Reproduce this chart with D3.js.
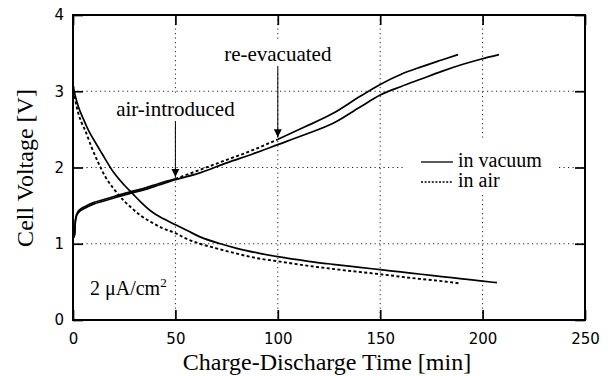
<!DOCTYPE html>
<html>
<head>
<meta charset="utf-8">
<script src="https://cdn.jsdelivr.net/npm/d3@7"></script>
<style>
    body { margin: 0; background: #fff; }
    .tick text { font-family: "DejaVu Sans", sans-serif; font-size: 15px; fill: #000; }
    .serif { font-family: "Liberation Serif", "Times New Roman", serif; fill: #000; }
</style>
</head>
<body>
<div id="d3-container"></div>
<script>
// values: [time (min), voltage (V)]
const vacuumCharge = [[0, 1.07], [0.8, 1.12], [1.1, 1.27], [1.5, 1.34], [2.2, 1.39], [3.5, 1.43], [6, 1.47], [10, 1.52], [15, 1.56], [20, 1.6], [28, 1.66], [35, 1.71], [42, 1.77], [50, 1.84], [62, 1.93], [75, 2.06], [88, 2.18], [100, 2.3], [113, 2.43], [127, 2.58], [140, 2.79], [150, 2.95], [160, 3.06], [170, 3.16], [180, 3.26], [190, 3.35], [199, 3.42], [208, 3.48]];
const airChargeStart = [[0, 1.07], [0.8, 1.13], [1.1, 1.29], [1.5, 1.36], [2.2, 1.41], [3.5, 1.45], [6, 1.49], [10, 1.54], [15, 1.58], [20, 1.62], [28, 1.68], [35, 1.73], [42, 1.79], [50, 1.85]];
const airChargeIntro = [[50, 1.85], [62, 1.97], [75, 2.1], [88, 2.23], [100, 2.37]];
const airChargeReevac = [[100, 2.37], [113, 2.53], [127, 2.71], [140, 2.93], [150, 3.09], [160, 3.22], [170, 3.32], [180, 3.41], [188, 3.48]];
const vacuumDischarge = [[0, 3.08], [1, 2.95], [2.6, 2.8], [5, 2.64], [7.5, 2.49], [10, 2.37], [14, 2.19], [20, 1.93], [25, 1.77], [29, 1.66], [33, 1.55], [38, 1.43], [44, 1.33], [50, 1.25], [56, 1.17], [62, 1.09], [72, 1.0], [80, 0.94], [90, 0.88], [100, 0.83], [115, 0.77], [127, 0.73], [140, 0.69], [150, 0.66], [160, 0.63], [170, 0.6], [180, 0.57], [190, 0.54], [200, 0.51], [207, 0.49]];
const airDischarge = [[0, 3.08], [1, 2.9], [2.6, 2.71], [4, 2.6], [5.9, 2.49], [9, 2.27], [12.4, 2.06], [16, 1.87], [20.5, 1.7], [25, 1.56], [28.6, 1.47], [33, 1.37], [38.4, 1.28], [44, 1.2], [50, 1.14], [55, 1.07], [62, 1.0], [70, 0.94], [80, 0.87], [90, 0.81], [100, 0.77], [115, 0.71], [130, 0.66], [150, 0.6], [169, 0.54], [180, 0.51], [189, 0.48]];

const xTicks = [0, 50, 100, 150, 200, 250];
const yTicks = [0, 1, 2, 3, 4];
const xGrid = [50, 100, 150, 200];
const yGrid = [1, 2, 3];

const width = 608;
const height = 376;
const margin = { top: 15, right: 23, bottom: 56, left: 73 };

const xScale = d3.scaleLinear()
    .domain([0, 250])
    .range([margin.left, width - margin.right]);

const yScale = d3.scaleLinear()
    .domain([0, 4])
    .range([height - margin.bottom, margin.top]);

const svg = d3.select("#d3-container")
    .append("svg")
    .attr("width", width)
    .attr("height", height);

// dotted grid
const grid = svg.append("g")
    .attr("stroke", "#222")
    .attr("stroke-width", 1)
    .attr("stroke-dasharray", "1.2,3.3");
grid.selectAll(".gx")
    .data(xGrid)
    .enter()
    .append("line")
    .attr("x1", d => xScale(d))
    .attr("x2", d => xScale(d))
    .attr("y1", yScale(4))
    .attr("y2", yScale(0));
grid.selectAll(".gy")
    .data(yGrid)
    .enter()
    .append("line")
    .attr("x1", xScale(0))
    .attr("x2", xScale(250))
    .attr("y1", d => yScale(d))
    .attr("y2", d => yScale(d));

// legend box hides the grid behind it
svg.append("rect")
    .attr("x", 405).attr("y", 140)
    .attr("width", 151).attr("height", 53)
    .attr("fill", "#fff");

// frame
const fx0 = xScale(0), fx1 = xScale(250), fy0 = yScale(0), fy1 = yScale(4);
svg.append("path")
    .attr("d", `M${fx0},${fy1}H${fx1}V${fy0}H${fx0}Z`)
    .attr("fill", "none")
    .attr("stroke", "#000")
    .attr("stroke-width", 2);

// inward ticks
const xAxis = d3.axisBottom(xScale).tickValues(xTicks).tickSizeInner(-10).tickSizeOuter(0).tickPadding(13);
const yAxis = d3.axisLeft(yScale).tickValues(yTicks).tickSizeInner(-10).tickSizeOuter(0).tickPadding(9).tickFormat(d3.format("d"));
const xTop = d3.axisTop(xScale).tickValues(xTicks).tickSizeInner(-10).tickSizeOuter(0).tickFormat(() => "");
const yRight = d3.axisRight(yScale).tickValues(yTicks).tickSizeInner(-10).tickSizeOuter(0).tickFormat(() => "");

const axes = [
    [xAxis, `translate(0,${fy0})`],
    [yAxis, `translate(${fx0},0)`],
    [xTop, `translate(0,${fy1})`],
    [yRight, `translate(${fx1},0)`]
];
axes.forEach(a => {
    const g = svg.append("g").attr("transform", a[1]).call(a[0]);
    g.select(".domain").remove();
    g.selectAll(".tick line").attr("stroke", "#000").attr("stroke-width", 1.7);
});

// curves
const line = d3.line()
    .x(d => xScale(d[0]))
    .y(d => yScale(d[1]))
    .curve(d3.curveMonotoneX);

const solid = { dash: null, w: 1.7 };
const dotted = { dash: "3,2.4", w: 1.9 };
const series = [
    [vacuumCharge, solid], [airChargeStart, solid], [airChargeIntro, dotted], [airChargeReevac, solid],
    [vacuumDischarge, solid], [airDischarge, dotted]
];
svg.append("g")
    .selectAll("path")
    .data(series)
    .enter()
    .append("path")
    .attr("d", d => line(d[0]))
    .attr("fill", "none")
    .attr("stroke", "#000")
    .attr("stroke-width", d => d[1].w)
    .attr("stroke-dasharray", d => d[1].dash);

// arrow annotations
svg.append("defs").append("marker")
    .attr("id", "arrow")
    .attr("viewBox", "0 0 8 10")
    .attr("refX", 8).attr("refY", 5)
    .attr("markerWidth", 8).attr("markerHeight", 10)
    .attr("markerUnits", "userSpaceOnUse")
    .attr("orient", "auto")
    .append("path")
    .attr("d", "M0,1 L8,5 L0,9 Z")
    .attr("fill", "#000");

const notes = [
    { text: "air-introduced", t: 50, v: airChargeIntro[0][1], ty: 116 },
    { text: "re-evacuated", t: 100, v: airChargeReevac[0][1], ty: 61 }
];
notes.forEach(n => {
    const x = xScale(n.t);
    const label = svg.append("text")
        .attr("class", "serif")
        .attr("x", x)
        .attr("y", n.ty)
        .attr("text-anchor", "middle")
        .attr("font-size", 21)
        .text(n.text);
    const bb = label.node().getBBox();
    svg.insert("rect", () => label.node())
        .attr("x", x - 3).attr("y", bb.y - 2)
        .attr("width", 6).attr("height", bb.height + 6)
        .attr("fill", "#fff");
    svg.append("line")
        .attr("x1", x).attr("x2", x)
        .attr("y1", n.ty + 5)
        .attr("y2", yScale(n.v) - 2)
        .attr("stroke", "#000")
        .attr("stroke-width", 1)
        .attr("marker-end", "url(#arrow)");
});

// legend
const legendItems = [["in vacuum", solid], ["in air", dotted]];
legendItems.forEach((item, i) => {
    const y = 162 + i * 20;
    svg.append("line")
        .attr("x1", 421).attr("x2", 453)
        .attr("y1", y).attr("y2", y)
        .attr("stroke", "#000")
        .attr("stroke-width", 1.3)
        .attr("stroke-dasharray", item[1].dash ? "2,1.6" : null);
    svg.append("text")
        .attr("class", "serif")
        .attr("x", 458)
        .attr("y", y + 5)
        .attr("font-size", 20)
        .text(item[0]);
});

// current density label
const cd = svg.append("text")
    .attr("class", "serif")
    .attr("x", 90)
    .attr("y", 295)
    .attr("font-size", 20);
cd.append("tspan").text("2 μA/cm");
cd.append("tspan").attr("dy", -8).attr("font-size", 13).text("2");

// axis titles
svg.append("text")
    .attr("class", "serif")
    .attr("x", 327)
    .attr("y", 370)
    .attr("text-anchor", "middle")
    .attr("font-size", 24)
    .text("Charge-Discharge Time [min]");

svg.append("text")
    .attr("class", "serif")
    .attr("transform", "translate(33,168) rotate(-90)")
    .attr("text-anchor", "middle")
    .attr("font-size", 24)
    .text("Cell Voltage [V]");
</script>
</body>
</html>
